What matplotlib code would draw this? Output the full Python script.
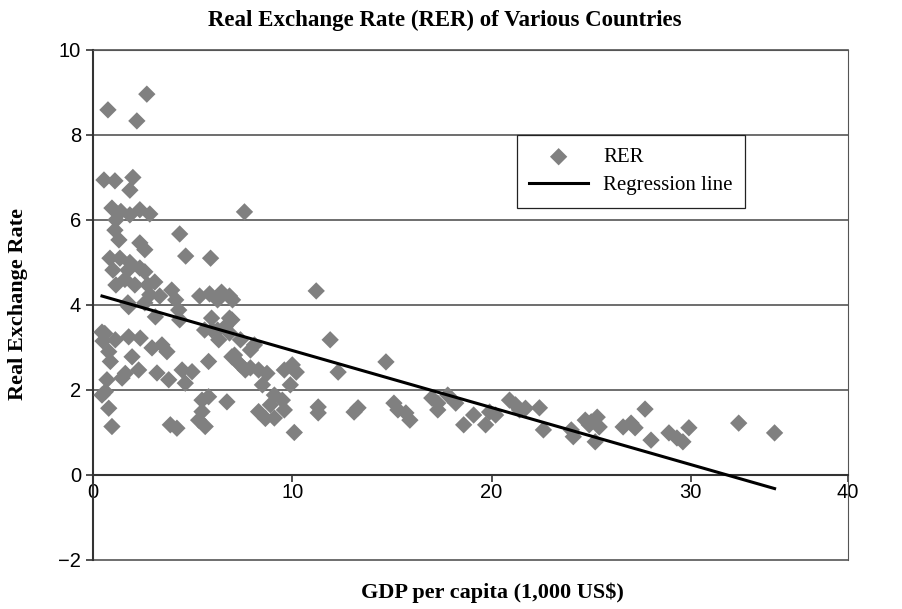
import matplotlib.pyplot as plt
import numpy as np

# GDP per capita (1,000 US$) and real exchange rate
gdp = [
    0.75, 2.2, 2.7,
    0.55, 1.1, 2.0, 1.85,
    0.95, 1.4, 1.85, 2.35, 2.85, 1.15, 7.6,
    1.1, 1.3, 2.35, 4.35, 0.85, 1.35, 1.85, 2.6, 4.65, 5.9,
    1.0, 1.75, 2.35, 2.6, 1.6, 2.1, 2.75, 3.1, 2.85, 2.6, 3.35, 3.95,
    5.35, 5.85, 6.45, 6.85, 7.0, 6.25, 4.15, 1.75, 1.15,
    4.35, 5.95, 6.85, 5.6, 6.25, 6.85, 7.4, 7.9, 8.1, 7.1, 7.4, 7.9,
    0.59, 1.12, 1.79, 2.37, 2.96, 3.46, 3.71, 0.79, 0.87, 1.96, 2.29, 1.62,
    1.46, 0.7, 0.62, 3.21, 3.8, 4.47, 4.97, 5.8, 4.63, 0.79, 0.95, 3.88,
    4.21, 5.47, 5.8, 6.72, 5.3, 5.63, 5.47, 8.31, 8.65, 6.97, 7.31, 7.64,
    8.31, 8.73, 5.97, 6.31, 6.97, 6.64, 4.3, 3.13, 1.79, 0.45, 0.5, 0.45,
    8.5, 9.1, 8.9, 9.5, 9.6, 9.1, 9.9, 10.1, 10.0, 9.6, 10.2,
    11.2, 11.3, 11.3, 11.9, 12.3, 13.1, 13.3, 14.7, 15.1, 15.3, 15.7, 15.9,
    17.0, 17.3, 17.3, 17.8, 18.2, 18.6, 19.1, 19.7, 19.9, 20.2,
    20.9, 21.2, 21.4, 22.4, 21.7, 22.6, 24.0, 24.1, 24.7, 25.0, 25.3, 25.4,
    25.2, 24.9, 26.6, 27.0, 27.2, 27.7, 28.0, 28.9, 29.3, 29.6, 29.9,
    32.4, 34.2,
]
rer = [
    8.59, 8.33, 8.96,
    6.94, 6.92, 7.0, 6.7,
    6.28, 6.2, 6.12, 6.24, 6.14, 6.0, 6.19,
    5.76, 5.53, 5.46, 5.67, 5.1, 5.1, 5.0, 5.3, 5.15, 5.1,
    4.82, 4.82, 4.87, 4.78, 4.6, 4.47, 4.47, 4.54, 4.24, 4.05, 4.21, 4.35,
    4.21, 4.26, 4.3, 4.21, 4.12, 4.12, 4.12, 4.05, 4.47,
    3.65, 3.69, 3.69, 3.41, 3.41, 3.34, 3.18, 2.94, 3.06, 2.82, 2.59, 2.52,
    3.33, 3.18, 3.25, 3.22, 2.99, 3.06, 2.9, 2.9, 2.67, 2.78, 2.47, 2.39,
    2.28, 2.24, 1.96, 2.4, 2.24, 2.47, 2.43, 2.67, 2.16, 1.57, 1.14, 1.18,
    1.1, 1.76, 1.84, 1.72, 1.29, 1.14, 1.49, 1.49, 1.33, 2.78, 2.63, 2.47,
    2.47, 2.39, 3.41, 3.18, 3.65, 3.49, 3.88, 3.72, 3.96, 3.36, 3.15, 1.88,
    2.12, 1.88, 1.65, 1.76, 1.53, 1.34, 2.12, 1.0, 2.59, 2.47, 2.42,
    4.33, 1.6, 1.46, 3.18, 2.42, 1.48, 1.58, 2.66, 1.69, 1.53, 1.46, 1.29,
    1.81, 1.69, 1.53, 1.88, 1.69, 1.18, 1.41, 1.18, 1.48, 1.41,
    1.76, 1.65, 1.53, 1.58, 1.57, 1.06, 1.06, 0.9, 1.29, 1.25, 1.36, 1.13,
    0.78, 1.18, 1.13, 1.22, 1.11, 1.55, 0.82, 0.99, 0.87, 0.78, 1.11,
    1.22, 0.99,
]

# regression line end points
reg_x = [0.45, 34.2]
reg_y = [4.21, -0.32]

plt.rcParams['font.family'] = ['Liberation Sans', 'DejaVu Sans']

fig = plt.figure(figsize=(9.03, 6.09), dpi=100)
ax = fig.add_axes([0.103, 0.0805, 0.836, 0.8375])

ax.set_xlim(0, 37.88)
ax.set_ylim(-2, 10)

for yy in [-2, 2, 4, 6, 8, 10]:
    ax.axhline(yy, color='#555555', lw=1.2, zorder=1, clip_on=False)

ax.scatter(gdp, rer, marker='D', s=78, color='#808080', edgecolors='none',
           zorder=3, label='RER')
ax.plot(reg_x, reg_y, color='black', lw=2.2, zorder=4, label='Regression line')

ax.spines['bottom'].set_position(('data', 0))
ax.spines['bottom'].set_color('#333333')
ax.spines['bottom'].set_linewidth(1.5)
ax.spines['left'].set_color('#333333')
ax.spines['left'].set_linewidth(1.5)
ax.spines['top'].set_color('#555555')
ax.spines['right'].set_color('#555555')

ax.set_xticks([0, 10, 20, 30, 37.88], labels=['0', '10', '20', '30', '40'])
ax.set_yticks([-2, 0, 2, 4, 6, 8, 10], labels=['\u22122', '0', '2', '4', '6', '8', '10'])
ax.tick_params(axis='both', direction='out', length=5, width=1.2,
               color='#333333', labelsize=14.5)
ax.tick_params(axis='x', pad=1)

fig.text(0.493, 0.967, 'Real Exchange Rate (RER) of Various Countries',
         ha='center', va='center', fontsize=16.5, fontweight='bold',
         family='Liberation Serif')
fig.text(0.545, 0.027, 'GDP per capita (1,000 US$)', ha='center', va='center',
         fontsize=16, fontweight='bold', family='Liberation Serif')
fig.text(0.02, 0.5, 'Real Exchange Rate', ha='center', va='center',
         rotation=90, fontsize=16, fontweight='bold', family='Liberation Serif')

leg = ax.legend(loc='upper left', bbox_to_anchor=(0.5616, 0.833),
                prop={'family': 'Liberation Serif', 'size': 15},
                fancybox=False, edgecolor='#222222', framealpha=1,
                handlelength=2.8, borderpad=0.6, labelspacing=0.4,
                borderaxespad=0, handletextpad=0.75)
leg.get_frame().set_linewidth(0.9)

plt.savefig('out.png', dpi=100)
